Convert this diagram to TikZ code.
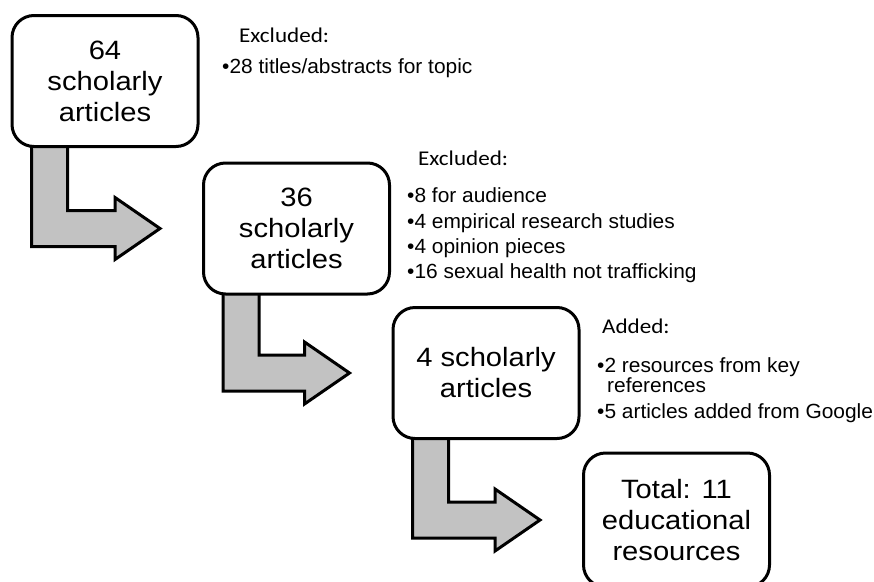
\documentclass[tikz,border=0pt]{standalone}
\usepackage{fontspec}
\setmainfont{Liberation Sans}
\newfontfamily\boxfont{Liberation Sans}[FakeStretch=1.1]
\newfontfamily\notefont{Liberation Sans}[FakeStretch=1.02]
\newfontfamily\headfont{Carlito}[FakeStretch=1.1]
\usetikzlibrary{calc,backgrounds}
\definecolor{arrowgray}{RGB}{194,194,194}
\tikzset{
  stagebox/.style={draw=black, line width=3pt, rounded corners=22pt, fill=white,
    minimum width=186pt, minimum height=131pt, align=center, inner sep=0pt,
    font=\boxfont\fontsize{26.5}{31}\selectfont},
  notehead/.style={anchor=base west, inner sep=0pt, font=\headfont\fontsize{21}{24}\selectfont},
  noteline/.style={anchor=base west, inner sep=0pt, font=\notefont\fontsize{20.5}{24}\selectfont},
  barrow/.style={draw=black, line width=3pt, fill=arrowgray, line join=miter}
}
\newcommand\bentarrow[2]{%
  \begin{pgfonlayer}{background}
  \draw[barrow] let \p1=($(#1.south west)+(21,0)$), \p2=($(#2.west)+(-42,0)$) in
    (\x1,\y1+12pt) -- (\x1,\y2-18pt) -- (\x2-45pt,\y2-18pt) -- (\x2-45pt,\y2-31pt)
    -- (\x2,\y2) -- (\x2-45pt,\y2+31pt) -- (\x2-45pt,\y2+18pt) -- (\x1+36pt,\y2+18pt)
    -- (\x1+36pt,\y1+12pt) -- cycle;
  \end{pgfonlayer}}
\begin{document}
\begin{tikzpicture}[x=1pt,y=-1pt]
\useasboundingbox (0,0) rectangle (874,581);
\node[stagebox] (b1) at (105,81) {64\\scholarly\\articles};
\node[stagebox] (b2) at (296.5,228.5) {36\\scholarly\\articles};
\node[stagebox] (b3) at (486,373) {4 scholarly\\articles};
\node[stagebox, minimum height=134pt] (b4) at (676.5,520) {Total: 11\\educational\\resources};
\bentarrow{b1}{b2}
\bentarrow{b2}{b3}
\bentarrow{b3}{b4}
\node[notehead] (h1) at (239,42) {Excluded:};
\node[noteline] (l1) at (222,73) {•28 titles/abstracts for topic};
\node[notehead] (h2) at (418,165) {Excluded:};
\node[noteline] (l2a) at (407,202) {•8 for audience};
\node[noteline] (l2b) at (407,228) {•4 empirical research studies};
\node[noteline] (l2c) at (407,253) {•4 opinion pieces};
\node[noteline] (l2d) at (407,278) {•16 sexual health not trafficking};
\node[notehead] (h3) at (602,333) {Added:};
\node[noteline] (l3a) at (597,372) {•2 resources from key};
\node[noteline] (l3b) at (607,392) {references};
\node[noteline] (l3c) at (597,418) {•5 articles added from Google};
\end{tikzpicture}
\end{document}
